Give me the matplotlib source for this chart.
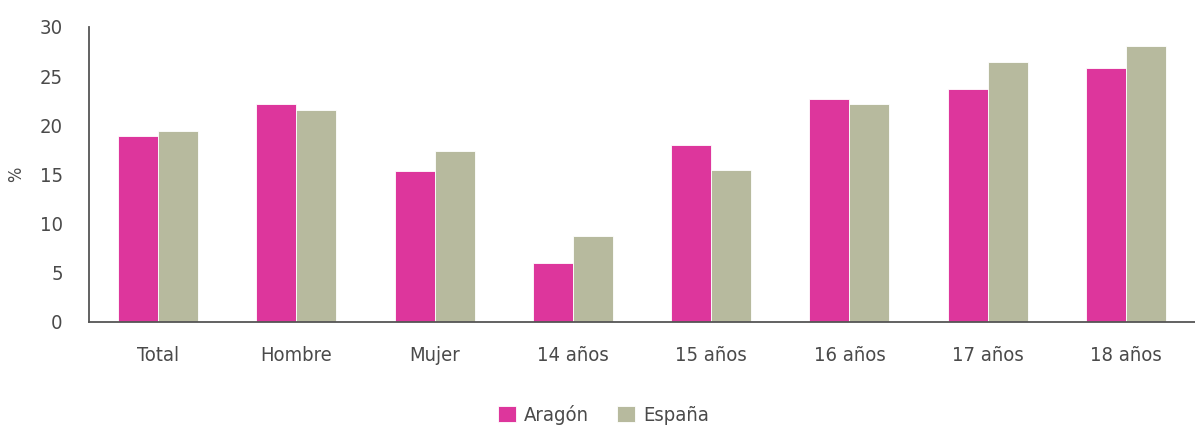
import matplotlib; matplotlib.use("Agg")
import matplotlib.pyplot as plt
import numpy as np

categories = ["Total", "Hombre", "Mujer", "14 años", "15 años", "16 años", "17 años", "18 años"]
aragon = [18.9, 22.2, 15.4, 6.0, 18.0, 22.7, 23.7, 25.8]
espana = [19.4, 21.6, 17.4, 8.7, 15.5, 22.2, 26.4, 28.1]
series_names = ["Aragón", "España"]
yticks = [0, 5, 10, 15, 20, 25, 30]

PINK = "#DD369C"
SAGE = "#B7BA9E"
TXT = "#4a4a4a"

plt.rcParams["font.family"] = ["DejaVu Sans"]
plt.rcParams["font.stretch"] = "condensed"

fig = plt.figure(figsize=(11.95, 4.28), dpi=100)
ax = fig.add_axes([0.0745, 0.2477, 0.9255, 0.6893])

x = np.arange(len(categories))
w = 0.29
ax.bar(x - w/2, aragon, w, color=PINK, edgecolor="white", linewidth=0.6, label=series_names[0])
ax.bar(x + w/2, espana, w, color=SAGE, edgecolor="white", linewidth=0.6, label=series_names[1])

ax.set_xlim(-0.5, len(categories) - 0.5)
ax.set_ylim(0, 30)
ax.set_yticks(yticks)
ax.set_xticks(x)
ax.set_xticklabels(categories)
ax.tick_params(length=0, labelsize=14.5, colors=TXT)
ax.tick_params(axis="x", pad=17)
ax.tick_params(axis="y", pad=19)
for s in ["top", "right"]:
    ax.spines[s].set_visible(False)
for s in ["left", "bottom"]:
    ax.spines[s].set_color("#555555")
    ax.spines[s].set_linewidth(1.3)
ax.set_ylabel("%", fontsize=13, color=TXT, labelpad=10)

fig.legend(loc="lower center", bbox_to_anchor=(0.505, -0.035), ncol=2, frameon=False,
           fontsize=14.5, handlelength=0.9, handleheight=0.9, columnspacing=1.4,
           handletextpad=0.4, labelcolor=TXT)

fig.savefig("out.png", dpi=100)
